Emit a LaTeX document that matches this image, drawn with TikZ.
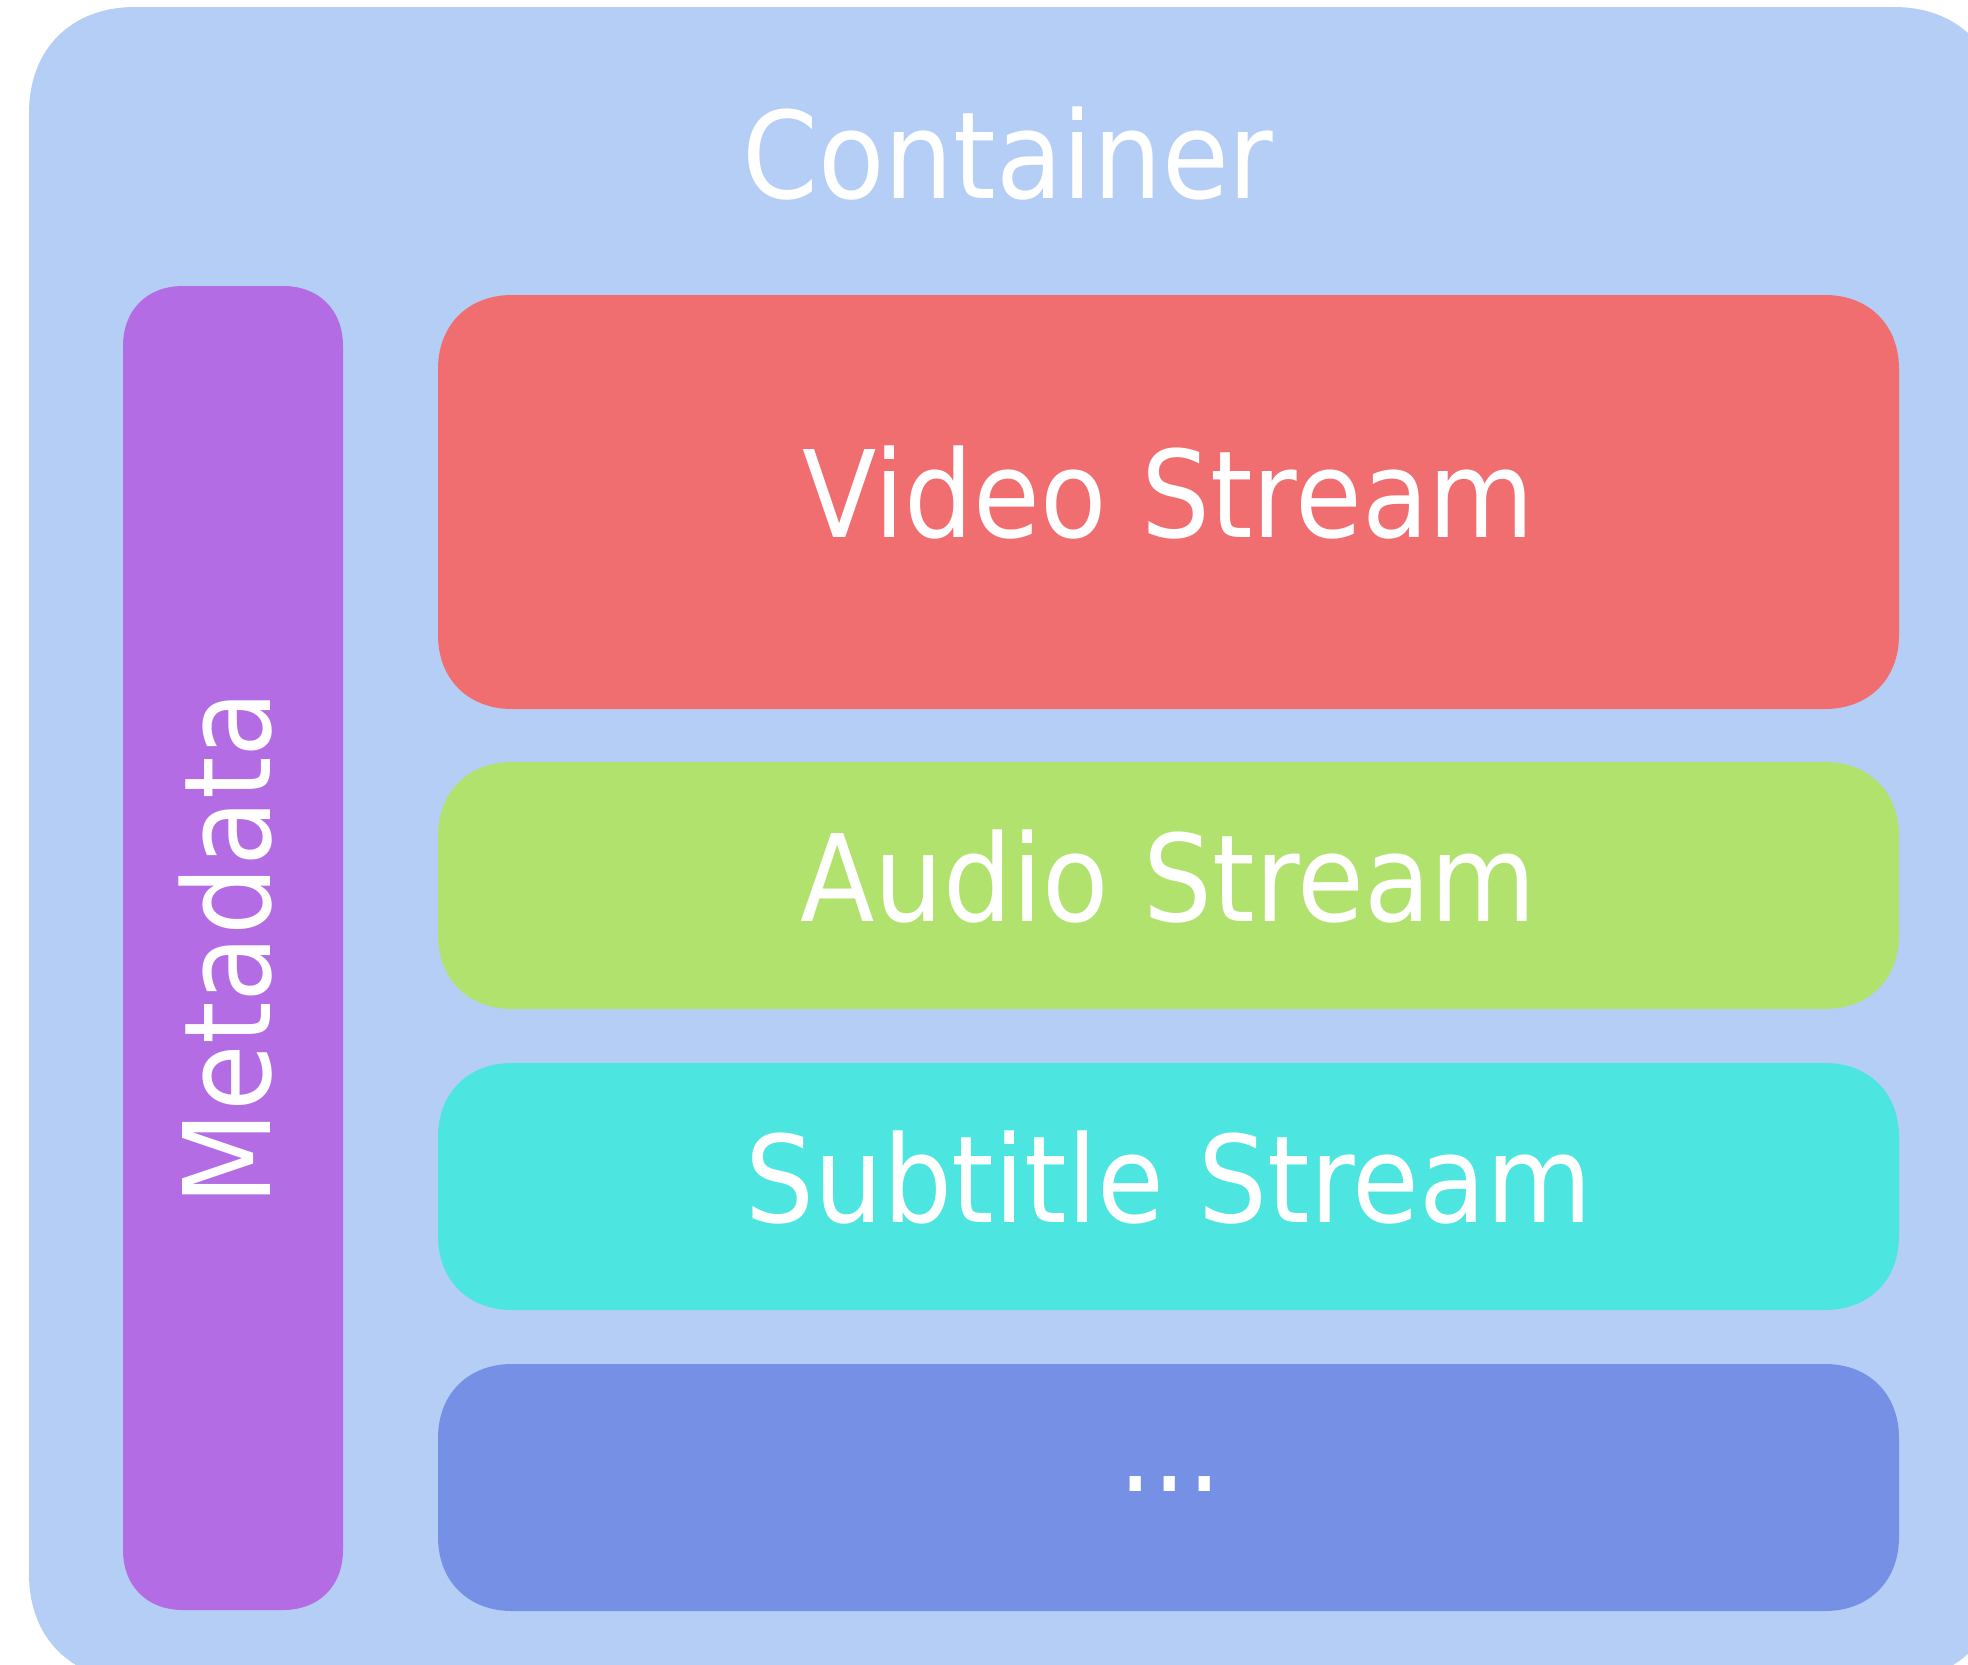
\documentclass[tikz,border=0pt]{standalone}
\usepackage{fontspec}
\usetikzlibrary{calc}
\newfontfamily\lblfont{DejaVu Sans}[FakeStretch=0.9]

\definecolor{cbox}{HTML}{B5CEF5}
\definecolor{cmeta}{HTML}{B36CE3}
\definecolor{cvideo}{HTML}{F06D70}
\definecolor{caudio}{HTML}{B2E26E}
\definecolor{csub}{HTML}{4DE5E0}
\definecolor{cmore}{HTML}{7590E5}

% Fill the area of node #1 as a rectangle with smooth (squircle-like)
% corners: #2 = corner extent, #3 = control-point offset, #4 = colour.
\newcommand\softrect[4]{%
  \fill[#4] let \p1=(#1.north west), \p2=(#1.south east) in
    (\x1+#2,\y1) -- (\x2-#2,\y1)
    .. controls (\x2-#3,\y1) and (\x2,\y1-#3) .. (\x2,\y1-#2)
    -- (\x2,\y2+#2)
    .. controls (\x2,\y2+#3) and (\x2-#3,\y2) .. (\x2-#2,\y2)
    -- (\x1+#2,\y2)
    .. controls (\x1+#3,\y2) and (\x1,\y2+#3) .. (\x1,\y2+#2)
    -- (\x1,\y1-#2)
    .. controls (\x1,\y1-#3) and (\x1+#3,\y1) .. cycle;}

\begin{document}
\begin{tikzpicture}[x=1pt,y=-1pt,
  panel/.style={draw=none, fill=none, inner sep=0pt, outer sep=0pt, rectangle},
  streambox/.style={panel, minimum width=1461pt},
  lbl/.style={text=white, inner sep=0pt, anchor=base,
    font=\lblfont\fontsize{120.7}{145}\selectfont}]

  \path[use as bounding box, clip] (0,0) rectangle (1968,1665);

  % outer container (runs past the right and bottom edges)
  \node[panel, minimum width=1971pt, minimum height=1673pt] (container) at (1014.5,843.5) {};
  \softrect{container}{106pt}{42pt}{cbox}
  \node[lbl] (containertxt) at (1008,198) {Container};

  % metadata column
  \node[panel, minimum width=220pt, minimum height=1324pt] (meta) at (233,948) {};
  \softrect{meta}{60pt}{24pt}{cmeta}
  \node[lbl, rotate=90] (metatxt) at (270,948) {Metadata};

  % stream boxes
  \node[streambox, minimum height=414pt] (video) at (1168.5,502) {};
  \softrect{video}{74pt}{30pt}{cvideo}
  \node[lbl] (videotxt) at (1168.5,537) {Video Stream};

  \node[streambox, minimum height=247pt] (audio) at (1168.5,885.5) {};
  \softrect{audio}{74pt}{30pt}{caudio}
  \node[lbl] (audiotxt) at (1168.5,921) {Audio Stream};

  \node[streambox, minimum height=247pt] (subtitle) at (1168.5,1186.5) {};
  \softrect{subtitle}{74pt}{30pt}{csub}
  \node[lbl] (subtitletxt) at (1168.5,1222) {Subtitle Stream};

  \node[streambox, minimum height=247pt] (more) at (1168.5,1487.5) {};
  \softrect{more}{74pt}{30pt}{cmore}
  \node[lbl] (moretxt) at (1170,1491) {...};
\end{tikzpicture}
\end{document}
